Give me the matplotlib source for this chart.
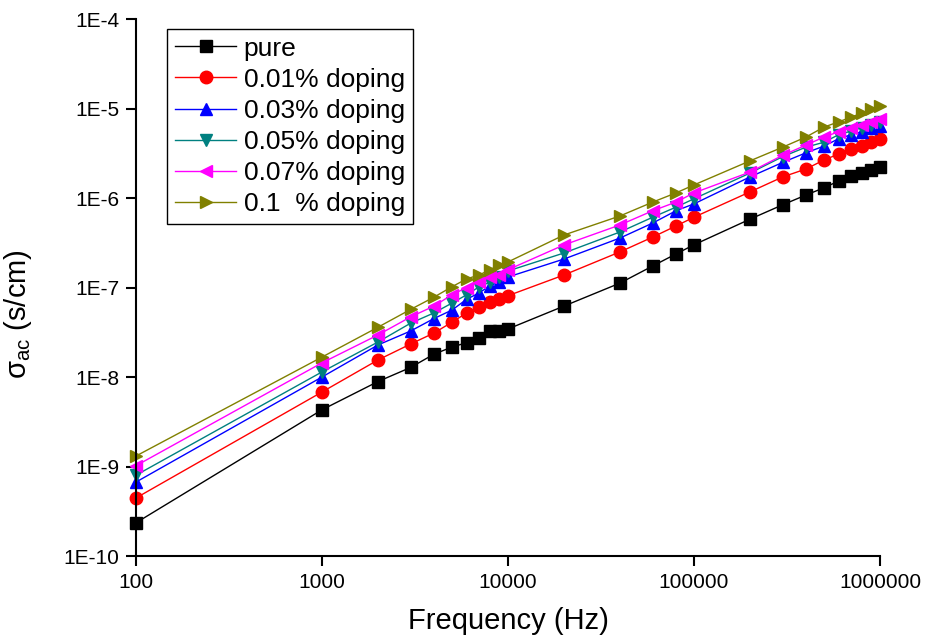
import matplotlib
matplotlib.use("Agg")
import matplotlib.pyplot as plt
from matplotlib.ticker import FixedLocator, NullLocator

plt.rcParams['font.family'] = ['Liberation Sans', 'DejaVu Sans']
plt.rcParams['mathtext.fontset'] = 'custom'
plt.rcParams['mathtext.rm'] = 'Liberation Sans'

# frequencies (Hz)
freq = [100, 1000, 2000, 3000, 4000, 5000, 6000, 7000, 8000, 9000, 10000,
        20000, 40000, 60000, 80000, 100000, 200000, 300000, 400000, 500000,
        600000, 700000, 800000, 900000, 1000000]

# ac conductivity (s/cm)
pure = [2.35e-10, 4.3e-9, 8.9e-9, 1.28e-8, 1.8e-8, 2.16e-8, 2.42e-8, 2.73e-8, 3.27e-8, 3.25e-8, 3.44e-8,
        6.2e-8, 1.12e-7, 1.74e-7, 2.37e-7, 3.0e-7, 5.8e-7, 8.4e-7, 1.08e-6, 1.3e-6,
        1.55e-6, 1.76e-6, 1.9e-6, 2.06e-6, 2.2e-6]
dop001 = [4.45e-10, 6.8e-9, 1.55e-8, 2.34e-8, 3.1e-8, 4.1e-8, 5.2e-8, 6.0e-8, 6.9e-8, 7.4e-8, 8.1e-8,
          1.38e-7, 2.5e-7, 3.66e-7, 4.87e-7, 6.1e-7, 1.17e-6, 1.72e-6, 2.11e-6, 2.66e-6,
          3.1e-6, 3.5e-6, 3.8e-6, 4.2e-6, 4.6e-6]
dop003 = [6.7e-10, 1.0e-8, 2.28e-8, 3.27e-8, 4.5e-8, 5.6e-8, 7.4e-8, 8.7e-8, 1.05e-7, 1.15e-7, 1.31e-7,
          2.08e-7, 3.57e-7, 5.25e-7, 7.2e-7, 8.6e-7, 1.72e-6, 2.5e-6, 3.2e-6, 3.8e-6,
          4.6e-6, 5.1e-6, 5.5e-6, 6.0e-6, 6.4e-6]
dop005 = [8.0e-10, 1.14e-8, 2.46e-8, 4.0e-8, 5.2e-8, 6.7e-8, 8.3e-8, 1.02e-7, 1.15e-7, 1.31e-7, 1.53e-7,
          2.43e-7, 4.17e-7, 6.1e-7, 7.9e-7, 9.8e-7, 1.9e-6, 2.9e-6, 3.7e-6, 4.2e-6,
          5.1e-6, 5.6e-6, 6.1e-6, 6.6e-6, 7.1e-6]
dop007 = [1.02e-9, 1.44e-8, 2.95e-8, 4.7e-8, 6.2e-8, 8.3e-8, 1.0e-7, 1.15e-7, 1.31e-7, 1.38e-7, 1.58e-7,
          2.99e-7, 5.0e-7, 7.2e-7, 9.0e-7, 1.14e-6, 1.95e-6, 3.0e-6, 3.9e-6, 4.8e-6,
          5.5e-6, 6.0e-6, 6.6e-6, 7.1e-6, 7.6e-6]
dop01 = [1.31e-9, 1.67e-8, 3.6e-8, 5.7e-8, 7.8e-8, 1.02e-7, 1.25e-7, 1.38e-7, 1.58e-7, 1.78e-7, 1.93e-7,
         3.86e-7, 6.3e-7, 9.0e-7, 1.14e-6, 1.4e-6, 2.6e-6, 3.7e-6, 4.8e-6, 6.2e-6,
         7.1e-6, 8.0e-6, 8.9e-6, 9.9e-6, 1.07e-5]

series = [
    (pure, 'pure', 'black', 's'),
    (dop001, '0.01% doping', 'red', 'o'),
    (dop003, '0.03% doping', 'blue', '^'),
    (dop005, '0.05% doping', '#008080', 'v'),
    (dop007, '0.07% doping', 'magenta', '<'),
    (dop01, '0.1  % doping', '#808000', '>'),
]

fig = plt.figure(figsize=(9.25, 6.39), dpi=100)
ax = fig.add_axes([136 / 925, 1 - 556 / 639, 744 / 925, 537 / 639])

for vals, label, color, marker in series:
    ax.plot(freq, vals, color=color, marker=marker, markersize=9,
            linewidth=1, label=label, clip_on=False)

ax.set_xscale('log')
ax.set_yscale('log')
ax.set_xlim(100, 1e6)
ax.set_ylim(1e-10, 1e-4)

xt = [100, 1000, 10000, 100000, 1000000]
yt = [1e-10, 1e-9, 1e-8, 1e-7, 1e-6, 1e-5, 1e-4]
ax.xaxis.set_major_locator(FixedLocator(xt))
ax.xaxis.set_minor_locator(NullLocator())
ax.yaxis.set_major_locator(FixedLocator(yt))
ax.yaxis.set_minor_locator(NullLocator())
ax.set_xticklabels([str(v) for v in xt])
ax.set_yticklabels(['1E-10', '1E-9', '1E-8', '1E-7', '1E-6', '1E-5', '1E-4'])

ax.spines['top'].set_visible(False)
ax.spines['right'].set_visible(False)
for s in ('left', 'bottom'):
    ax.spines[s].set_linewidth(1.5)
ax.tick_params(direction='out', length=7, width=1.5, labelsize=15, pad=5)

ax.set_xlabel('Frequency (Hz)', fontsize=21)
ax.xaxis.set_label_coords(0.5, -0.095)
ax.set_ylabel(r'σ$_{\mathrm{ac}}$ (s/cm)', fontsize=21)
ax.yaxis.set_label_coords(-0.137, 0.45)

leg = ax.legend(loc='upper left', bbox_to_anchor=(0.042, 0.982), fontsize=19,
                handlelength=2.3, labelspacing=0.27, borderpad=0.3,
                handletextpad=0.3, borderaxespad=0, fancybox=False, framealpha=1)
leg.get_frame().set_edgecolor('black')
leg.get_frame().set_linewidth(1)

fig.savefig('out.png', dpi=100)
